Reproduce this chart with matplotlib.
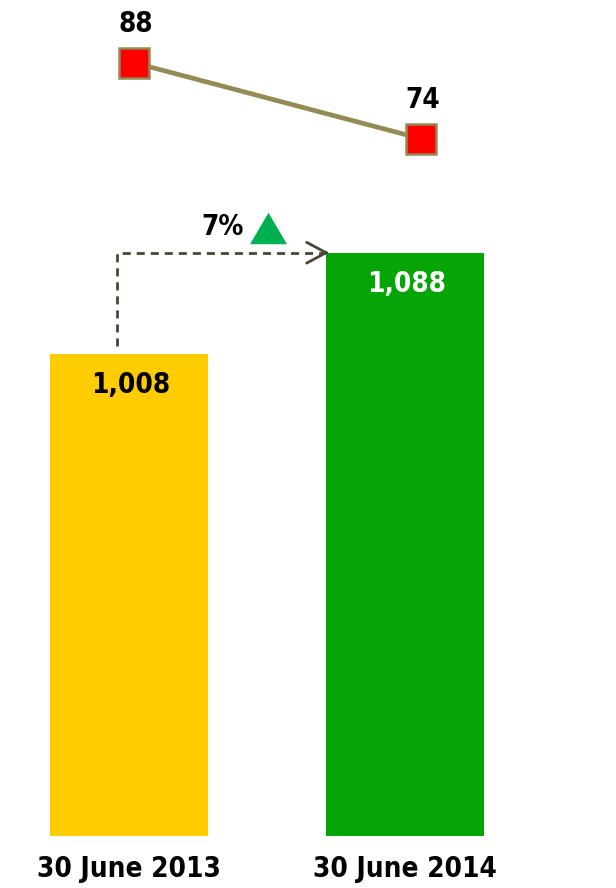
import matplotlib
matplotlib.use("Agg")
import matplotlib.pyplot as plt
from matplotlib.patches import FancyArrowPatch

# ---- data ----
categories = ["30 June 2013", "30 June 2014"]
bar_values = [1008, 1088]
line_values = [88, 74]
pct_label = "7%"

bar_colors = ["#FFCC00", "#05A505"]
bar_label_colors = ["black", "white"]

W, H, DPI = 616, 888, 100
fig = plt.figure(figsize=(W / DPI, H / DPI), dpi=DPI)
fig.patch.set_facecolor("white")

FONT = dict(family="DejaVu Sans", fontweight="bold", fontstretch="condensed", fontsize=20)

# ---- bar axes ----
bottom_px = 835.7
ax = fig.add_axes([0, (H - bottom_px) / H, 1, bottom_px / H])
px_per_unit = 1.266
y0 = 627.5
ax.set_ylim(y0, y0 + bottom_px / px_per_unit)
xs = 276.0
ax.set_xlim(-129 / xs, 1 + (W - 405) / xs)
width = 158 / xs
x = list(range(len(categories)))
ax.bar(x, bar_values, width=width, color=bar_colors, bottom=0, zorder=2)
for xi, v, c in zip(x, bar_values, bar_label_colors):
    ax.annotate(f"{v:,}", xy=(xi, v), xytext=(1, -39.3 * 72 / DPI), textcoords="offset points",
                ha="center", va="baseline", color=c, **FONT)

ax.set_xticks(x)
ax.set_xticklabels(categories, **FONT)
ax.tick_params(axis="x", length=0, pad=14)
ax.set_yticks([])
for s in ax.spines.values():
    s.set_visible(False)
ax.patch.set_alpha(0)

# dashed connector arrow
dash_color = "#4A4535"
vx = x[0] - 12 / xs
tip_x = x[1] - width / 2 + 3 / xs
ax.plot([vx, vx, tip_x - 4 / xs], [bar_values[0] + 6, bar_values[1], bar_values[1]],
        color=dash_color, lw=2.0, linestyle=(0, (2.9, 2.15)), zorder=3, solid_capstyle="butt")
arr = FancyArrowPatch((tip_x - 4 / xs, bar_values[1]), (tip_x, bar_values[1]),
                      arrowstyle="->,head_length=1.4,head_width=0.75", mutation_scale=10,
                      color=dash_color, lw=2.0, zorder=3, shrinkA=0, shrinkB=0)
ax.add_patch(arr)

# percentage label and up triangle
ax.annotate(pct_label, xy=((x[0] + x[1]) / 2, bar_values[1]), xytext=(-44.5 * 72 / DPI, 17.4 * 72 / DPI),
            textcoords="offset points", ha="center", va="baseline", color="black", **FONT)
ax.plot([(x[0] + x[1]) / 2], [bar_values[1]], linestyle="none",
        marker=[(-1, -0.85), (1, -0.85), (0, 0.85)], markersize=37 * 72 / DPI,
        color="#00B050", markeredgewidth=0, zorder=4,
        transform=ax.transData + matplotlib.transforms.ScaledTranslation(1 / DPI, 25.2 / DPI, fig.dpi_scale_trans))

# ---- line axes ----
lax = fig.add_axes([0, 0, 1, 1])
lax.patch.set_alpha(0)
lax.axis("off")
lx = 287.0
lax.set_xlim(-134 / lx, 1 + (W - 421) / lx)
lpu = 76 / 14
lax.set_ylim(88 - (H - 62.7) / lpu, 88 + 62.7 / lpu)
lax.plot(x, line_values, color="#948A54", lw=3.4, marker="s", markersize=30.5 * 72 / DPI,
         markerfacecolor="#FF0000", markeredgecolor="#948A54", markeredgewidth=1.8, zorder=3)
for xi, v in zip(x, line_values):
    lax.annotate(f"{v}", xy=(xi, v), xytext=(1, 31 * 72 / DPI), textcoords="offset points",
                 ha="center", va="baseline", color="black", **FONT)

fig.savefig("out.png", dpi=DPI)
